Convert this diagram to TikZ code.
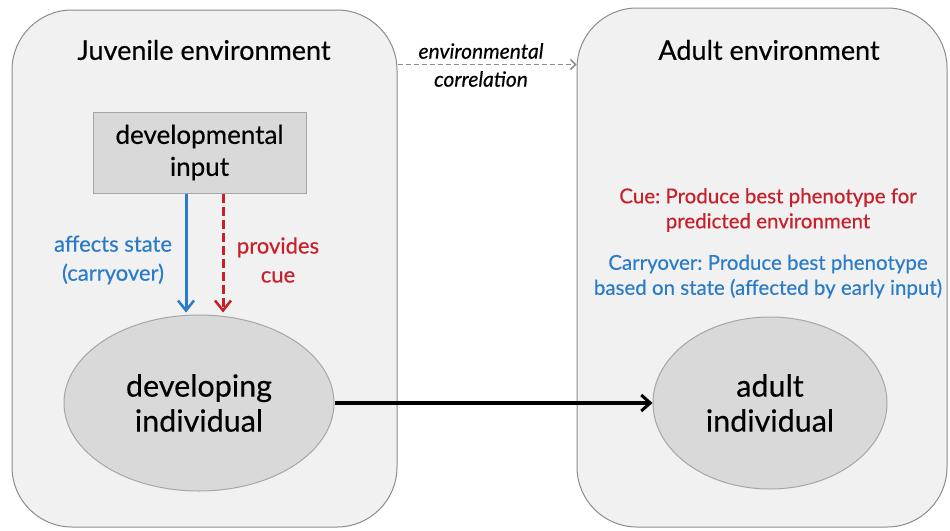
\documentclass[tikz,border=0pt]{standalone}
\usepackage{fontspec}
\setmainfont{Lato}[FakeBold=0.35]
\usetikzlibrary{arrows.meta,calc,shapes.geometric}
\definecolor{panelfill}{HTML}{F1F1F1}
\definecolor{panelline}{HTML}{8C8C8C}
\definecolor{boxfill}{HTML}{D9D9D9}
\definecolor{boxline}{HTML}{A6A6A6}
\definecolor{cblue}{HTML}{2A7CC8}
\definecolor{cred}{HTML}{C8202A}
\definecolor{cgray}{HTML}{8F8F8F}
\tikzset{
  panel/.style={draw=panelline, line width=1pt, fill=panelfill, rounded corners=60pt, inner sep=0pt},
  title/.style={font=\fontsize{27}{32}\selectfont, text=black},
  graybox/.style={draw=boxline, line width=1pt, fill=boxfill, inner sep=0pt, align=center, font=\fontsize{26}{32}\selectfont},
  indiv/.style={ellipse, draw=boxline, line width=1pt, fill=boxfill, inner sep=0pt, align=center, font=\fontsize{30.5}{35}\selectfont},
  lbl/.style={align=center, font=\fontsize{22}{29}\selectfont},
  note/.style={align=center, font=\fontsize{20.5}{25}\selectfont},
  barb/.style={-{Straight Barb[length=10pt,width=16pt,line width=2.5pt]}},
}
\frenchspacing
\begin{document}
\begin{tikzpicture}[x=1pt,y=-1pt]
\useasboundingbox (0,0) rectangle (950,530);
\fill[white] (0,0) rectangle (950,530);
% panels
\node[panel, minimum width=385pt, minimum height=517pt] (leftenv) at (204.5,268.5) {};
\node[panel, minimum width=370pt, minimum height=519pt] (rightenv) at (762,267.5) {};
\node[title] (jtitle) at (204,50) {Juvenile environment};
\node[title] (atitle) at (769,50) {Adult environment};
% developmental input
\node[graybox, minimum width=213pt, minimum height=81pt] (devin) at (199.5,152.5) {developmental\\input};
% ellipses
\node[indiv, minimum width=270pt, minimum height=176pt] (dev) at (199,403) {developing\\individual};
\node[indiv, minimum width=234pt, minimum height=172pt] (adult) at (770,403) {adult\\individual};
% arrows from input
\coordinate (bs) at ($(devin.south)+(-13.5,0)$);
\coordinate (be) at ($(dev.north)+(-13,-2)$);
\coordinate (rs) at ($(devin.south)+(23.5,0)$);
\coordinate (re) at ($(dev.north)+(24,-2)$);
\draw[cblue, line width=3pt, barb] (bs) -- (be);
\draw[cred, line width=3pt, dash pattern=on 9pt off 4pt, barb] (rs) -- (re);
\node[lbl, text=cblue] (aff) at (113,260) {affects state\\(carryover)};
\node[lbl, text=cred] (prov) at (278,260) {provides\\cue};
% main arrow
\draw[black, line width=3.2pt, -{Straight Barb[length=9pt,width=16pt,line width=3pt]}] (dev.east) -- (adult.west);
% environmental correlation
\coordinate (cs) at ($(leftenv.north east)+(0,55)$);
\coordinate (ce) at ($(rightenv.north west)+(0,57)$);
\draw[cgray, line width=1.8pt, dash pattern=on 5pt off 3pt, -{Straight Barb[length=5pt,width=10pt,line width=1.5pt]}] (cs) -- (ce);
\node[font=\fontsize{21}{25}\selectfont\itshape] (envc) at (481,51) {environmental};
\node[font=\fontsize{21}{25}\selectfont\itshape] (corr) at (481,79) {correlation};
% adult explanation texts
\node[note, text=cred] (cue) at (768,210) {Cue: Produce best phenotype for\\predicted environment};
\node[note, text=cblue] (carry) at (768,276.5) {Carryover: Produce best phenotype\\based on state (affected by early input)};
\end{tikzpicture}
\end{document}
